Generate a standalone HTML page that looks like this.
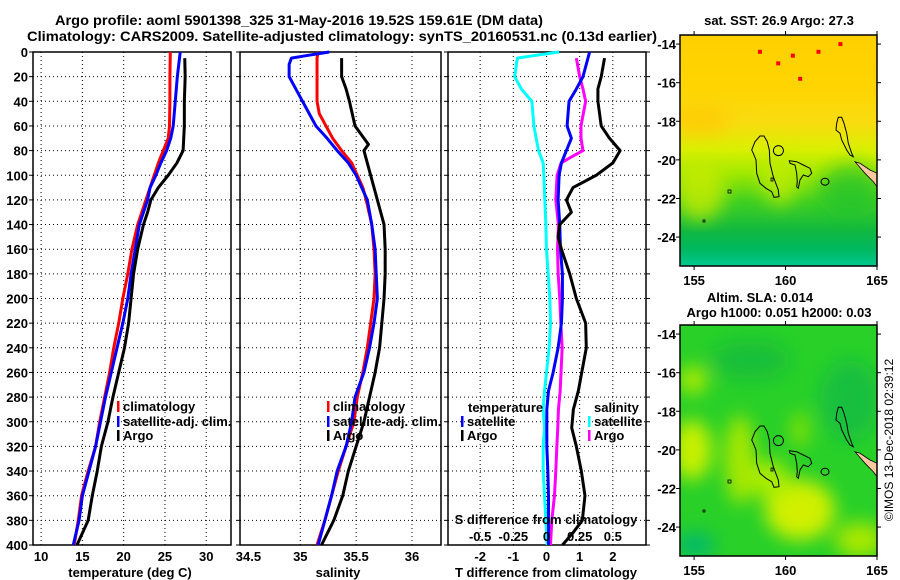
<!DOCTYPE html>
<html><head><meta charset="utf-8"><style>
html,body{margin:0;padding:0;background:#fff;}
svg{display:block;font-family:"Liberation Sans",Arial,sans-serif;font-weight:bold;}
text{font-weight:bold;}
</style></head><body>
<svg id="fig" width="900" height="580" viewBox="0 0 900 580" xmlns="http://www.w3.org/2000/svg">
<defs>
<linearGradient id="sstGrad" x1="0" y1="0" x2="0" y2="1">
<stop offset="0" stop-color="#ffd000"/><stop offset="0.22" stop-color="#ffd400"/>
<stop offset="0.38" stop-color="#f8dc10"/><stop offset="0.5" stop-color="#d8f000"/>
<stop offset="0.6" stop-color="#a0e800"/><stop offset="0.72" stop-color="#40d020"/>
<stop offset="0.85" stop-color="#10b840"/><stop offset="0.93" stop-color="#00b860"/>
<stop offset="1" stop-color="#00c890"/></linearGradient>
<filter id="blur"><feGaussianBlur stdDeviation="9"/></filter>
<clipPath id="m1clip"><rect x="680" y="35" width="197" height="231"/></clipPath>
<clipPath id="m2clip"><rect x="680" y="325" width="197" height="231"/></clipPath>
</defs>
<text x="55" y="25" font-size="14" textLength="488" lengthAdjust="spacingAndGlyphs">Argo profile: aoml 5901398_325 31-May-2016 19.52S 159.61E (DM data)</text>
<text x="27" y="41" font-size="14" textLength="630" lengthAdjust="spacingAndGlyphs">Climatology: CARS2009. Satellite-adjusted climatology: synTS_20160531.nc (0.13d earlier)</text>
<g id="panels"></g>
<g id="maps"></g>
<text transform="translate(893,440) rotate(-90)" text-anchor="middle" font-size="12" font-weight="normal" style="font-weight:normal">©IMOS 13-Dec-2018 02:39:12</text>
</svg>
<script>
// ---------- data ----------
const depthTicks = [0,20,40,60,80,100,120,140,160,180,200,220,240,260,280,300,320,340,360,380,400];
const tempTicks = [10,15,20,25,30];
const salTicks = [34.5,35,35.5,36];
const salTickLabels = ["34.5","35","35.5","36"];
const tdiffTicks = [-2,-1,0,1,2];
const sdiffTicks = [-0.5,-0.25,0,0.25,0.5];
const sdiffTickLabels = ["-0.5","-0.25","0","0.25","0.5"];

const climDepthT = [0,20,40,60,70,80,90,100,110,120,130,140,160,180,200,220,240,260,280,300,320,340,360,380,400];
const climTemp = [25.65,25.6,25.6,25.55,25.4,24.8,24.2,23.7,23.2,22.7,22.2,21.7,21.0,20.5,19.9,19.4,18.8,18.3,17.7,17.1,16.6,15.7,14.9,14.5,14.0];
const satTemp = [26.85,26.5,26.25,26.0,25.7,25.2,24.5,23.9,23.2,22.9,22.4,21.9,21.4,20.9,20.5,19.9,19.2,18.5,17.8,17.2,16.6,15.8,15.0,14.6,13.9];
const argoDepthT = [5,20,40,60,80,90,100,110,120,130,140,160,180,200,220,240,260,280,300,320,340,360,380,400];
const argoTemp = [27.4,27.45,27.35,27.35,27.2,26.45,25.4,24.2,23.3,22.9,22.4,21.7,21.2,20.9,20.6,20.1,19.4,18.7,18.1,17.3,16.8,16.2,15.7,14.35];

const climDepthS = [0,5,20,40,50,60,70,80,90,100,110,120,140,160,180,200,220,240,260,280,300,320,340,360,380,400];
const climSal = [35.16,35.15,35.15,35.15,35.17,35.23,35.29,35.37,35.46,35.51,35.56,35.59,35.64,35.66,35.67,35.66,35.63,35.6,35.56,35.51,35.48,35.41,35.34,35.28,35.22,35.15];
const satDepthS = [0,3,5,10,20,30,40,50,60,70,80,90,100,110,120,140,160,180,200,220,240,260,280,300,320,340,360,380,400];
const satSal = [35.26,35.05,34.92,34.9,34.9,34.96,35.02,35.08,35.14,35.24,35.33,35.43,35.5,35.55,35.6,35.64,35.67,35.68,35.69,35.66,35.62,35.57,35.49,35.46,35.41,35.33,35.28,35.22,35.16];
const argoDepthS = [5,20,30,40,60,70,75,80,90,100,120,140,160,180,200,220,240,260,280,300,320,340,360,380,400];
const argoSal = [35.37,35.37,35.41,35.44,35.49,35.57,35.61,35.57,35.6,35.63,35.69,35.75,35.76,35.76,35.75,35.73,35.71,35.67,35.62,35.57,35.5,35.43,35.38,35.3,35.19];

const satTdDepth = [0,5,20,30,40,60,70,80,90,100,120,140,160,180,200,220,240,260,275,290,305,320,340,360,380,400];
const satTdiff = [1.3,1.25,1.1,0.9,0.68,0.62,0.75,0.6,0.45,0.38,0.35,0.4,0.42,0.48,0.48,0.45,0.35,0.2,0.06,0.01,0.01,0.01,0.04,0.06,0.06,0.06];
const argoTdDepth = [5,20,30,40,60,70,80,90,100,110,120,130,140,150,160,180,200,220,240,275,290,305,320,340,360,380,390,400];
const argoTdiff = [1.75,1.65,1.55,1.55,1.65,1.9,2.22,2.0,1.5,0.8,0.6,0.75,0.4,0.35,0.45,0.7,0.9,1.18,1.2,0.96,0.81,0.76,0.9,1.05,1.16,1.08,0.8,0.48];
const satSdDepth = [0,3,5,20,30,40,60,80,90,100,120,140,160,180,200,220,240,275,290,305,320,340,360,380,400];
const satSdiff = [0.095,-0.1,-0.22,-0.24,-0.19,-0.11,-0.095,-0.06,-0.025,-0.02,-0.0125,-0.005,0,0.0125,0.025,0.03,0.02,-0.015,-0.025,-0.015,-0.025,-0.025,-0.015,-0.005,0.005];
const argoSdDepth = [5,20,30,40,60,70,80,85,90,100,120,140,160,180,200,220,240,275,290,305,320,340,360,380,400];
const argoSdiff = [0.225,0.25,0.275,0.295,0.26,0.26,0.275,0.19,0.11,0.08,0.07,0.09,0.083,0.088,0.1,0.108,0.118,0.103,0.09,0.085,0.078,0.07,0.06,0.04,0.03];

const lonTicks = [155,160,165];
const latTicks = [-14,-16,-18,-20,-22,-24];
const floatLon = [163.0,158.6,161.8,160.4,159.6,160.8];
const floatLat = [-14.0,-14.4,-14.4,-14.6,-15.0,-15.8];
const argoLon = [159.61];
const argoLat = [-19.52];

// ---------- helpers ----------
const NS = "http://www.w3.org/2000/svg";
const svg = document.getElementById('fig');
const panelsG = document.getElementById('panels');
const mapsG = document.getElementById('maps');
function mk(tag, attrs, parent, txt){
  const e = document.createElementNS(NS, tag);
  for (const k in attrs) e.setAttribute(k, attrs[k]);
  if (txt !== undefined) e.textContent = txt;
  (parent||svg).appendChild(e);
  return e;
}
const TOP = 52, BOT = 545;
function yD(d){ return TOP + d*(BOT-TOP)/400; }
function lin(d0,d1,r0,r1){ return v => r0 + (v-d0)*(r1-r0)/(d1-d0); }

const P1 = {x0:33,x1:231}, P2 = {x0:240,x1:441}, P3 = {x0:448,x1:646};
const xT = lin(9.02,33.0,P1.x0,P1.x1);
const xS = lin(34.46,36.26,P2.x0,P2.x1);
const xTd = lin(-2.97,3.0,P3.x0,P3.x1);
const xSd = lin(-0.7425,0.75,P3.x0,P3.x1);

function panelFrame(P, xticks, xscale, name, showYLabels, rightTicks){
  const g = mk('g', {}, panelsG);
  
  
  depthTicks.forEach(d => {
    if (d>0 && d<400) {
      const l = mk('line', {x1:P.x0,x2:P.x1,y1:yD(d),y2:yD(d),stroke:'#000','stroke-width':1,'stroke-dasharray':'1,3'}, g);
      
      
    }
    mk('line', {x1:P.x0-4,x2:P.x0,y1:yD(d),y2:yD(d),stroke:'#000'}, g);
    if (rightTicks) mk('line', {x1:P.x1,x2:P.x1+4,y1:yD(d),y2:yD(d),stroke:'#000'}, g);
    if (showYLabels) {
      const t = mk('text', {x:28,y:yD(d)+5,'text-anchor':'end','font-size':13}, g, String(d));
      
      
    }
  });
  xticks.forEach(v => {
    const x = xscale(v);
    const l = mk('line', {x1:x,x2:x,y1:TOP,y2:BOT,stroke:'#000','stroke-width':1,'stroke-dasharray':'1,3'}, g);
    
    
  });
  const r = mk('rect', {x:P.x0,y:TOP,width:P.x1-P.x0,height:BOT-TOP,fill:'none',stroke:'#000','stroke-width':1.5}, g);
  
  
  return g;
}
function series(g, depths, vals, xscale, color, w, name){
  let dstr = '';
  vals.forEach((v,i) => { dstr += (i?'L':'M') + xscale(v).toFixed(2) + ',' + yD(depths[i]).toFixed(2); });
  const p = mk('path', {d:dstr, fill:'none', stroke:color, 'stroke-width':w, 'stroke-linejoin':'round'}, g);
  
  
}
function label(g, x, y, s, name, anchor, size){
  const t = mk('text', {x:x, y:y, 'text-anchor':anchor||'start', 'font-size':size||13}, g, s);
  
  
  return t;
}
function legendEntry(g, x, y, color, s){
  const b = mk('rect', {x:x, y:y-10, width:2.5, height:11, fill:color}, g);
  
  
  const t = mk('text', {x:x+6, y:y, 'font-size':13}, g, s);
  
  
}

// ---------- panel 1 ----------
const g1 = panelFrame(P1, tempTicks, xT, 'temperature-panel', true, false);
series(g1, climDepthT, climTemp, xT, '#ff0000', 3, 'climatology-temperature-line');
series(g1, climDepthT, satTemp, xT, '#0000ff', 3, 'satellite-temperature-line');
series(g1, argoDepthT, argoTemp, xT, '#000000', 3, 'argo-temperature-line');
tempTicks.forEach(v => label(g1, xT(v), 561, String(v), 'temperature-tick-label', 'middle'));
label(g1, 130, 577, 'temperature (deg C)', 'temperature-axis-title', 'middle');
legendEntry(g1, 117, 411, '#ff0000', 'climatology');
legendEntry(g1, 117, 426, '#0000ff', 'satellite-adj. clim.');
legendEntry(g1, 117, 440, '#000000', 'Argo');

// ---------- panel 2 ----------
const g2 = panelFrame(P2, salTicks.slice(1), xS, 'salinity-panel', false, false);
series(g2, climDepthS, climSal, xS, '#ff0000', 3, 'climatology-salinity-line');
series(g2, satDepthS, satSal, xS, '#0000ff', 3, 'satellite-salinity-line');
series(g2, argoDepthS, argoSal, xS, '#000000', 3, 'argo-salinity-line');
salTicks.forEach((v,i) => label(g2, xS(v)+(i===0?4:0), 561, salTickLabels[i], 'salinity-tick-label', 'middle'));
label(g2, 338, 577, 'salinity', 'salinity-axis-title', 'middle');
legendEntry(g2, 327, 411, '#ff0000', 'climatology');
legendEntry(g2, 327, 426, '#0000ff', 'satellite-adj. clim.');
legendEntry(g2, 327, 440, '#000000', 'Argo');

// ---------- panel 3 ----------
const g3 = panelFrame(P3, tdiffTicks, xTd, 'difference-panel', false, true);
series(g3, satSdDepth, satSdiff, xSd, '#00ffff', 3, 'satellite-salinity-diff-line');
series(g3, argoSdDepth, argoSdiff, xSd, '#ff00ff', 3, 'argo-salinity-diff-line');
series(g3, satTdDepth, satTdiff, xTd, '#0000ff', 3, 'satellite-temperature-diff-line');
series(g3, argoTdDepth, argoTdiff, xTd, '#000000', 3, 'argo-temperature-diff-line');
tdiffTicks.forEach(v => label(g3, xTd(v), 561, String(v), 'tdiff-tick-label', 'middle'));
sdiffTicks.forEach((v,i) => label(g3, xSd(v), 541, sdiffTickLabels[i], 'sdiff-tick-label', 'middle'));
label(g3, 546, 524, 'S difference from climatology', 'sdiff-axis-title', 'middle');
label(g3, 546, 577, 'T difference from climatology', 'tdiff-axis-title', 'middle');
label(g3, 468, 412, 'temperature', 'legend-temperature-heading');
legendEntry(g3, 461, 426, '#0000ff', 'satellite');
legendEntry(g3, 461, 440, '#000000', 'Argo');
label(g3, 594, 412, 'salinity', 'legend-salinity-heading');
legendEntry(g3, 588, 426, '#00ffff', 'satellite');
legendEntry(g3, 588, 440, '#ff00ff', 'Argo');

// ---------- maps ----------
const lonX = lin(154.23,165.0,680,877);
function latY(top){ return lat => top + (-13.53 - lat)*19.3; }
const outlines = [
 "760,136 764,136 767.3,141.7 769.3,150 770,163.3 773.3,176.7 778.3,190 779,196.7 774,197.3 771.7,191.7 766,188.3 760,183.3 756.7,173.3 756,160 753.3,153.3 751.7,150 755,141.7",
 "838.3,117.3 841.7,117.3 844,123.3 846.7,133.3 848.3,143.3 851.7,153.3 853.3,156.7 850,155 846.7,150 841.7,140 840,133.3 836,130 836.7,123.3",
 "789.3,160.7 796.7,161.7 803.3,165 810,168.3 811.7,173.3 808.3,176.7 803.3,175 800,180 798.3,188.3 796.7,186.7 797.3,181.7 796.7,173.3 795,165 790,163.3"
];
function drawMap(top, name, clip, fillFn){
  const g = mk('g', {}, mapsG);
  
  
  const inner = mk('g', {'clip-path':'url(#'+clip+')'}, g);
  fillFn(inner);
  const off = top - 35;
  const og = mk('g', {transform:'translate(0,'+off+')'}, inner);
  
  
  outlines.forEach(pts => mk('polygon', {points:pts, fill:'none', stroke:'#000', 'stroke-width':1}, og));
  mk('ellipse', {cx:825, cy:181.7, rx:4, ry:3.5, fill:'none', stroke:'#000'}, og);
  mk('rect', {x:771, y:178, width:2, height:3, fill:'none', stroke:'#000', 'stroke-width':0.8}, og);
  mk('rect', {x:728, y:190, width:3, height:3, fill:'none', stroke:'#000', 'stroke-width':0.8}, og);
  mk('rect', {x:703, y:220, width:2, height:2, fill:'none', stroke:'#000', 'stroke-width':0.8}, og);
  const land = mk('polygon', {points:"855,161.7 860,163.3 870,170 877,173.3 877,186.7 873.3,181.7 865,173.3", fill:'#ffc8a0', stroke:'#000', 'stroke-width':0.8}, og);
  
  
  const ly = latY(top);
  argoLon.forEach((lo,i) => {
    const c = mk('circle', {cx:lonX(lo), cy:ly(argoLat[i]), r:5, fill:'none', stroke:'#000', 'stroke-width':1}, inner);
    
    
  });
  mk('rect', {x:680, y:top, width:197, height:231, fill:'none', stroke:'#000', 'stroke-width':1.5}, g);
  lonTicks.forEach(lo => {
    const x = lonX(lo);
    mk('line', {x1:x,x2:x,y1:top-4,y2:top,stroke:'#000'}, g);
    mk('line', {x1:x,x2:x,y1:top+231,y2:top+235,stroke:'#000'}, g);
    label(g, x, top+250, String(lo), 'longitude-tick-label', 'middle');
  });
  latTicks.forEach(la => {
    const y = ly(la);
    mk('line', {x1:676,x2:680,y1:y,y2:y,stroke:'#000'}, g);
    mk('line', {x1:877,x2:881,y1:y,y2:y,stroke:'#000'}, g);
    label(g, 676, y+5, String(la), 'latitude-tick-label', 'end');
  });
  return g;
}
const gm1 = drawMap(35, 'sst-map', 'm1clip', inner => {
  mk('rect', {x:680, y:35, width:197, height:231, fill:'url(#sstGrad)'}, inner);
  const b = mk('g', {filter:'url(#blur)'}, inner);
  mk('ellipse', {cx:700, cy:190, rx:25, ry:30, fill:'#c8ec00', opacity:0.8}, b);
  mk('ellipse', {cx:780, cy:180, rx:18, ry:25, fill:'#c0ec00', opacity:0.8}, b);
  mk('ellipse', {cx:850, cy:190, rx:30, ry:25, fill:'#20c030', opacity:0.7}, b);
  mk('ellipse', {cx:700, cy:120, rx:30, ry:15, fill:'#ffc800', opacity:0.7}, b);
  const ly = latY(35);
  floatLon.forEach((lo,i) => {
    const s = mk('rect', {x:lonX(lo)-2, y:ly(floatLat[i])-2, width:4, height:4, fill:'#ff0000'}, inner);
    
    
  });
});
label(gm1, 779, 25, 'sat. SST: 26.9 Argo: 27.3', 'sst-map-title', 'middle');
const gm2 = drawMap(325, 'sla-map', 'm2clip', inner => {
  mk('rect', {x:680, y:325, width:197, height:231, fill:'#28d028'}, inner);
  const b = mk('g', {filter:'url(#blur)'}, inner);
  mk('ellipse', {cx:692, cy:450, rx:20, ry:30, fill:'#c8f000'}, b);
  mk('ellipse', {cx:693, cy:380, rx:14, ry:14, fill:'#b0ec00'}, b);
  mk('ellipse', {cx:740, cy:460, rx:15, ry:45, fill:'#a8e800'}, b);
  mk('ellipse', {cx:800, cy:510, rx:35, ry:30, fill:'#d0f000'}, b);
  mk('ellipse', {cx:770, cy:480, rx:20, ry:20, fill:'#a8ec00'}, b);
  mk('ellipse', {cx:800, cy:430, rx:8, ry:18, fill:'#90e400'}, b);
  mk('ellipse', {cx:860, cy:540, rx:25, ry:18, fill:'#a8e800'}, b);
  mk('ellipse', {cx:750, cy:360, rx:40, ry:20, fill:'#10b840', opacity:0.7}, b);
  mk('ellipse', {cx:850, cy:400, rx:30, ry:40, fill:'#10b848', opacity:0.7}, b);
  mk('ellipse', {cx:695, cy:545, rx:20, ry:12, fill:'#00b870'}, b);
});
label(gm2, 760, 302, 'Altim. SLA: 0.014', 'sla-map-title', 'middle');
label(gm2, 779, 317, 'Argo h1000: 0.051 h2000: 0.03', 'sla-map-subtitle', 'middle');
</script>
</body></html>
